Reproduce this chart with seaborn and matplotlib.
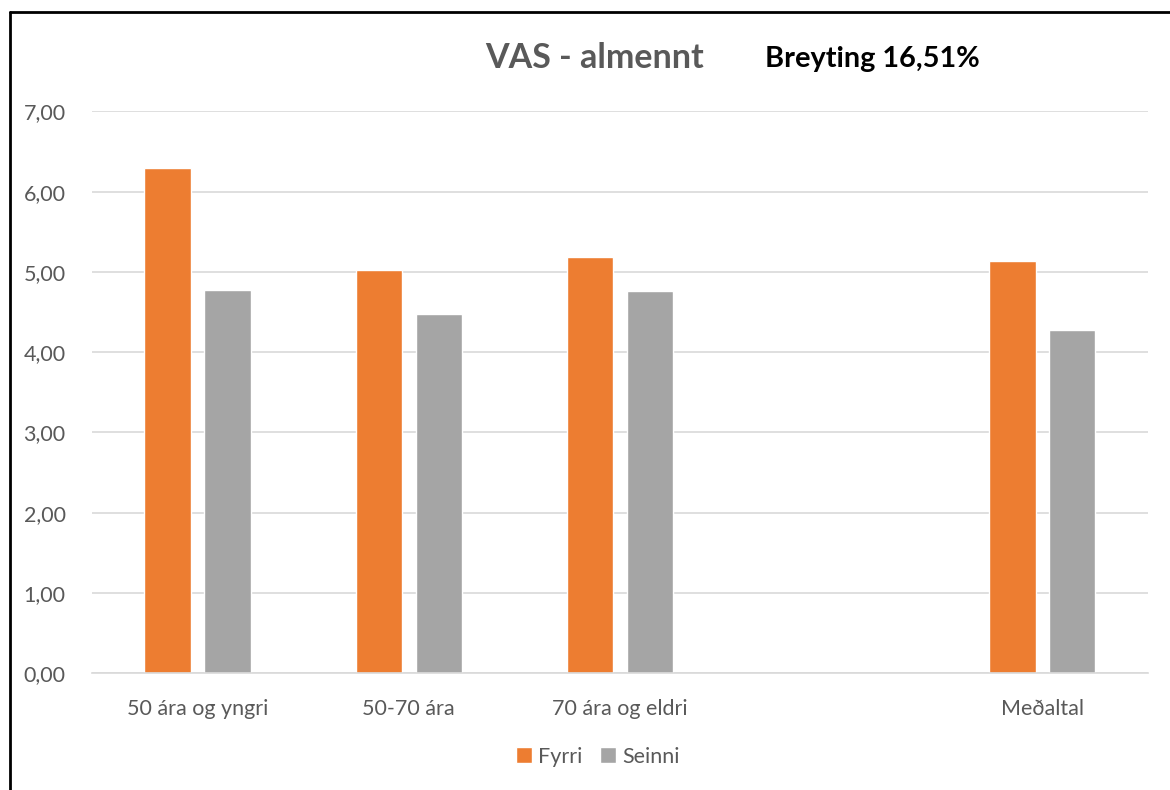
import pandas as pd
import seaborn as sns
import matplotlib.pyplot as plt
from matplotlib.ticker import FuncFormatter
from matplotlib.lines import Line2D

flokkar = ['50 ára og yngri', '50-70 ára', '70 ára og eldri', ' ', 'Meðaltal']
fyrri = [6.29, 5.02, 5.18, None, 5.13]
seinni = [4.77, 4.47, 4.76, None, 4.28]

df = pd.DataFrame({
    'flokkur': flokkar * 2,
    'gildi': fyrri + seinni,
    'timi': ['Fyrri'] * len(flokkar) + ['Seinni'] * len(flokkar),
}).dropna()

sns.set_style('white')
plt.rcParams['font.family'] = ['Lato', 'DejaVu Sans']

fig = plt.figure(figsize=(11.7, 7.9), dpi=100)
ax = fig.add_axes([0.0786, 0.148, 0.9026, 0.711])

sns.barplot(data=df, x='flokkur', y='gildi', hue='timi', order=flokkar,
            palette={'Fyrri': '#ed7d31', 'Seinni': '#a5a5a5'}, saturation=1,
            width=0.568, gap=0.23, ax=ax, legend=True)

ax.set_ylim(0, 7)
ax.set_xlim(-0.5, len(flokkar) - 0.5)
ax.set_yticks(range(0, 8))
ax.yaxis.set_major_formatter(FuncFormatter(lambda v, p: f'{v:.2f}'.replace('.', ',')))
ax.grid(axis='y', color='#d9d9d9', linewidth=1.2)
ax.set_axisbelow(True)
for s in ['top', 'right', 'left']:
    ax.spines[s].set_visible(False)
ax.spines['bottom'].set_color('#d9d9d9')
ax.spines['bottom'].set_linewidth(1.2)
ax.tick_params(axis='both', length=0, labelsize=15.5, colors='#595959')
ax.tick_params(axis='x', pad=19)
ax.tick_params(axis='y', pad=19)
ax.set_xlabel('')
ax.set_ylabel('')

ax.legend(loc='center', bbox_to_anchor=(0.511, 0.042), bbox_transform=fig.transFigure,
          ncol=2, frameon=False, fontsize=15.5, handlelength=0.75, handleheight=0.75,
          handletextpad=0.3, columnspacing=0.8, labelcolor='#595959')

fig.text(0.508, 0.927, 'VAS - almennt', ha='center', va='center',
         fontsize=24.5, fontweight='bold', color='#595959')
fig.text(0.654, 0.925, 'Breyting 16,51%', ha='left', va='center',
         fontsize=20.8, fontweight='bold', color='black')

# ramminn
fig.add_artist(Line2D([10 / 1170, 1], [1 - 12 / 790, 1 - 12 / 790], transform=fig.transFigure, color='black', lw=2))
fig.add_artist(Line2D([10 / 1170, 10 / 1170], [0, 1 - 12 / 790], transform=fig.transFigure, color='black', lw=2))

plt.savefig('out.png', dpi=100)
plt.close()
